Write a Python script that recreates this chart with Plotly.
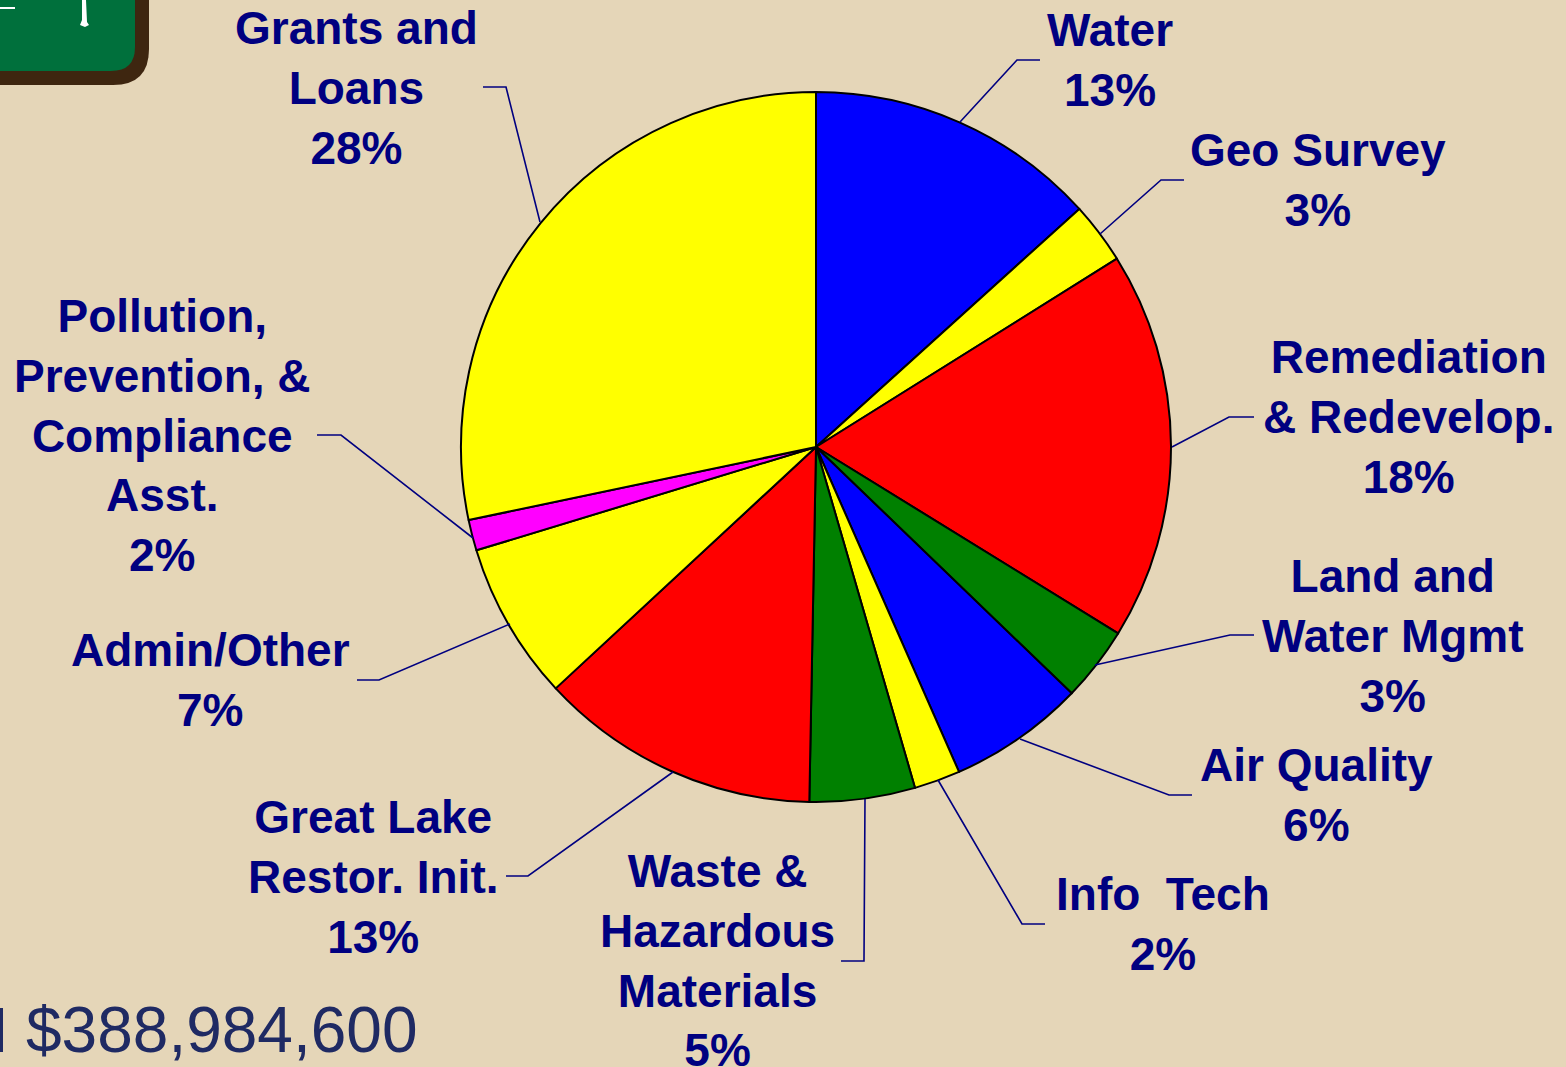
import plotly.graph_objects as go

W, H = 1566, 1067

categories = ["Water", "Geo Survey", "Remediation & Redevelop.", "Land and Water Mgmt", "Air Quality",
              "Info Tech", "Waste & Hazardous Materials", "Great Lake Restor. Init.", "Admin/Other",
              "Pollution, Prevention, & Compliance Asst.", "Grants and Loans"]
values = [13.3, 2.8, 17.7, 3.4, 6.2, 2.1, 4.8, 12.8, 7.2, 1.4, 28.3]
colors = ["#0000ff", "#ffff00", "#ff0000", "#008000", "#0000ff", "#ffff00", "#008000", "#ff0000",
          "#ffff00", "#ff00ff", "#ffff00"]
label_texts = ["Water<br>13%", "Geo Survey<br>3%", "Remediation<br>&amp; Redevelop.<br>18%",
               "Land and<br>Water Mgmt<br>3%", "Air Quality<br>6%", "Info\u00a0\u00a0Tech<br>2%",
               "Waste &amp;<br>Hazardous<br>Materials<br>5%", "Great Lake<br>Restor. Init.<br>13%",
               "Admin/Other<br>7%", "Pollution,<br>Prevention, &amp;<br>Compliance<br>Asst.<br>2%",
               "Grants and<br>Loans<br>28%"]
label_x = [1110, 1318, 1408, 1393, 1316, 1163, 717, 373, 210, 162, 356]
label_y = [60, 180, 417, 636, 795, 924, 960, 877, 680, 436, 88]
leaders = [
    [(960, 122), (1017, 60), (1040, 60)],
    [(1100, 234), (1161, 180), (1184, 180)],
    [(1172, 447), (1229, 417), (1254, 417)],
    [(1095, 665), (1230, 635), (1254, 635)],
    [(1020, 739), (1169, 795), (1192, 795)],
    [(938, 780), (1022, 924), (1045, 924)],
    [(865, 799), (864, 961), (841, 961)],
    [(673, 772), (528, 876), (506, 876)],
    [(510, 624), (379, 680), (357, 680)],
    [(473, 538), (341, 435), (317, 435)],
    [(540, 222), (506, 87), (483, 87)],
]
total_text = "$388,984,600"

BG = "#e5d6b8"
NAVY = "#000080"


def px(x):
    return x / W


def py(y):
    return 1 - y / H


def path(points, close=False):
    d = "M" + " L".join(f"{px(x):.5f},{py(y):.5f}" for x, y in points)
    return d + (" Z" if close else "")


def rounded_box(right, bottom, r):
    return (f"M{px(-5):.5f},{py(-5):.5f} L{px(right):.5f},{py(-5):.5f} "
            f"L{px(right):.5f},{py(bottom - r):.5f} "
            f"Q{px(right):.5f},{py(bottom):.5f} {px(right - r):.5f},{py(bottom):.5f} "
            f"L{px(-5):.5f},{py(bottom):.5f} Z")


fig = go.Figure(go.Pie(
    labels=categories, values=values, sort=False, direction="clockwise", rotation=0,
    marker=dict(colors=colors, line=dict(color="#000000", width=2)),
    textinfo="none", hoverinfo="label+percent",
    domain=dict(x=[px(461), px(1171)], y=[py(802), py(92)]),
    showlegend=False,
))

shapes = []
for pts in leaders:
    shapes.append(dict(type="path", xref="paper", yref="paper", path=path(pts),
                       line=dict(color=NAVY, width=1.6)))
# chalkboard corner
shapes.append(dict(type="path", xref="paper", yref="paper", path=rounded_box(149, 85, 36),
                   fillcolor="#3e2610", line=dict(width=0)))
shapes.append(dict(type="path", xref="paper", yref="paper", path=rounded_box(135, 71, 24),
                   fillcolor="#00703c", line=dict(width=0)))
shapes.append(dict(type="path", xref="paper", yref="paper",
                   path=path([(0, 7), (15, 7), (15, 9), (0, 9)], True),
                   fillcolor="#ffffff", line=dict(width=0)))
shapes.append(dict(type="path", xref="paper", yref="paper",
                   path=path([(82, 0), (86, 0), (87, 22), (89, 25), (85, 27), (80, 25), (82, 20)], True),
                   fillcolor="#ffffff", line=dict(width=0)))
# clipped first letter of the total line
shapes.append(dict(type="rect", xref="paper", yref="paper", x0=px(0), x1=px(3), y0=py(1052), y1=py(1008),
                   fillcolor="#1f2a63", line=dict(width=0)))

annotations = [
    dict(text=t, x=px(x), y=py(y), xref="paper", yref="paper", xanchor="center", yanchor="middle",
         align="center", showarrow=False,
         font=dict(family="Liberation Sans", size=46, color=NAVY, weight="bold"))
    for t, x, y in zip(label_texts, label_x, label_y)
]
annotations.append(dict(text=total_text, x=px(24), y=py(1030), xref="paper", yref="paper",
                        xanchor="left", yanchor="middle", showarrow=False,
                        font=dict(family="Liberation Sans", size=64, color="#1f2a63")))

fig.update_layout(width=W, height=H, margin=dict(l=0, r=0, t=0, b=0), paper_bgcolor=BG,
                  plot_bgcolor=BG, shapes=shapes, annotations=annotations)
fig.write_html("out.html", config=dict(displayModeBar=False),
               post_script="document.body.style.margin='0';document.documentElement.style.overflow='hidden';")
